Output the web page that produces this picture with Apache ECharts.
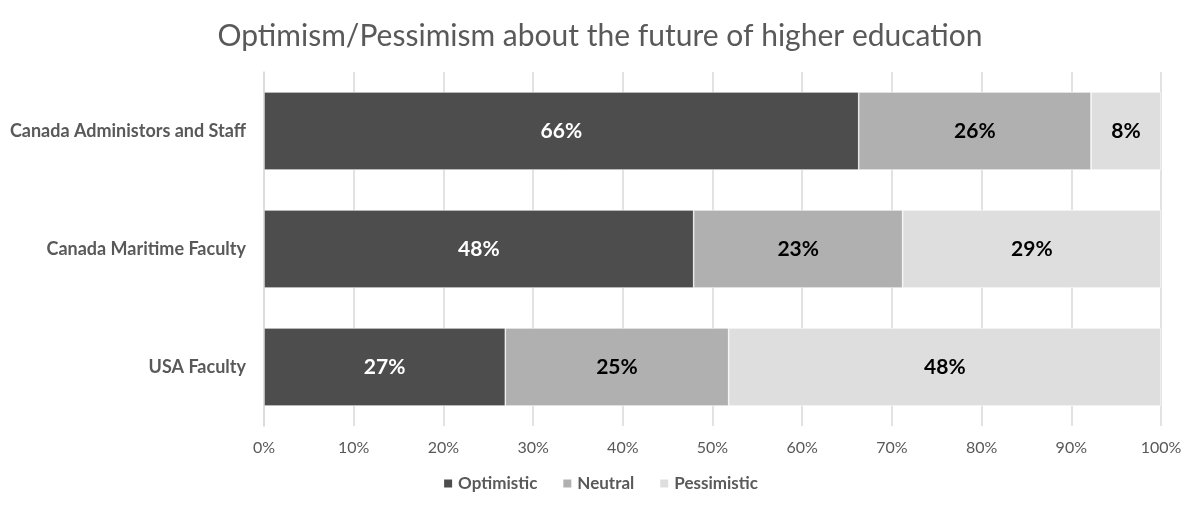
<!DOCTYPE html>
<html>
<head>
<meta charset="utf-8">
<script src="https://cdn.jsdelivr.net/npm/echarts@6/dist/echarts.min.js"></script>
<style>
  html, body { margin: 0; padding: 0; background: #fff; }
  #chart { width: 1200px; height: 513px; }
</style>
</head>
<body>
<div id="chart"></div>
<script>
// 数据
var categories = ['Canada Administors and Staff', 'Canada Maritime Faculty', 'USA Faculty'];
var optimistic = [66.3, 47.9, 26.9];
var neutral = [25.9, 23.3, 24.9];
var pessimistic = [7.8, 28.8, 48.2];
var xTicks = [0, 10, 20, 30, 40, 50, 60, 70, 80, 90, 100];

var textFont = 'Lato, "Open Sans", sans-serif';

function makeSeries(name, data, color, labelColor) {
    return {
        name: name,
        type: 'bar',
        stack: 'total',
        data: data,
        barWidth: 78,
        itemStyle: { color: color, borderColor: '#ffffff', borderWidth: 0.6 },
        label: {
            show: true,
            position: 'inside',
            color: labelColor,
            fontFamily: textFont,
            fontWeight: 'bold',
            fontSize: 21,
            formatter: function (p) { return Math.round(p.value) + '%'; }
        }
    };
}

var chart = echarts.init(document.getElementById('chart'));
chart.setOption({
    backgroundColor: '#ffffff',
    animation: false,
    title: {
        text: 'Optimism/Pessimism about the future of higher education',
        left: 'center',
        top: 16,
        textStyle: { color: '#595959', fontSize: 30, fontWeight: 'normal', fontFamily: textFont }
    },
    legend: {
        bottom: 16,
        left: 'center',
        itemWidth: 10,
        itemHeight: 10,
        itemGap: 24,
        icon: 'rect',
        textStyle: { color: '#595959', fontSize: 17, fontWeight: 'bold', fontFamily: textFont },
        data: ['Optimistic', 'Neutral', 'Pessimistic']
    },
    grid: { left: 264, right: 39, top: 72, height: 354 },
    xAxis: {
        type: 'value',
        min: xTicks[0],
        max: xTicks[xTicks.length - 1],
        interval: 10,
        axisLine: { show: false },
        axisTick: { show: false },
        splitLine: { lineStyle: { color: '#d9d9d9', width: 1.5 } },
        axisLabel: {
            color: '#595959', fontSize: 16, fontFamily: textFont, margin: 14,
            formatter: function (v) { return v + '%'; }
        }
    },
    yAxis: {
        type: 'category',
        inverse: true,
        data: categories,
        axisLine: { show: true, lineStyle: { color: '#d9d9d9', width: 1.5 } },
        axisTick: { show: false },
        axisLabel: { color: '#595959', fontSize: 18, fontWeight: 'bold', fontFamily: textFont, margin: 18 }
    },
    series: [
        makeSeries('Optimistic', optimistic, '#4d4d4d', '#ffffff'),
        makeSeries('Neutral', neutral, '#b0b0b0', '#000000'),
        makeSeries('Pessimistic', pessimistic, '#dedede', '#000000')
    ]
});
</script>
</body>
</html>
